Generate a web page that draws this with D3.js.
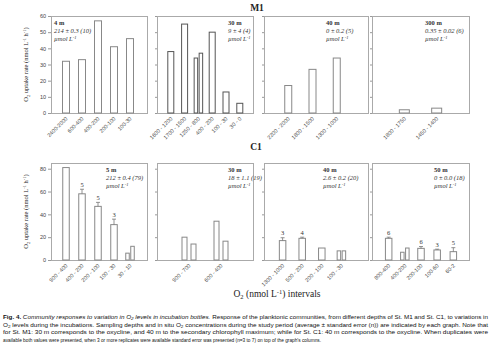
<!DOCTYPE html>
<html><head><meta charset="utf-8">
<script src="https://cdn.jsdelivr.net/npm/d3@7"></script>
<style>body{margin:0;background:#fff} svg{display:block}</style>
</head><body><svg id="c" width="491" height="353"></svg>
<script>
// ---------- DATA ----------
const m1_4m_cats   = ["2400-2000","600-400","400-200","200-100","100-30"];
const m1_4m_vals   = [32,33,57,41,46];
const m1_30m_cats  = ["1600 - 1200","1700 - 1500","1250 - 800","400 - 200","100 - 30","30 - 0"];
const m1_30m_vals  = [38,55,[34,37],50,13,6];
const m1_40m_cats  = ["2200 - 2000","1800 - 1500","1300 - 1000"];
const m1_40m_vals  = [17,27,34];
const m1_300m_cats = ["1800 - 1750","1450 - 1400"];
const m1_300m_vals = [2,3];

const c1_5m_cats  = ["900 - 400","400 - 200","200 - 100","100 - 30","30 - 10"];
const c1_5m_vals  = [81,58,47,31,[6,12]];
const c1_5m_err   = [null,4,3.5,4.8,null];
const c1_5m_n     = [null,5,5,3,null];
const c1_30m_cats = ["900 - 700","600 - 400"];
const c1_30m_vals = [[20,14],[34,16.5]];
const c1_40m_cats = ["1300 - 1000","500 - 200","200 - 100","100 - 30"];
const c1_40m_vals = [17,19,10.5,[8,8]];
const c1_40m_err  = [2.5,1,null,null];
const c1_40m_n    = [3,4,null,null];
const c1_50m_cats = ["800-400","400-200","200-100","100-60","60-2"];
const c1_50m_vals = [19,[6.8,10.5],10.2,8.8,7.3];
const c1_50m_err  = [1,null,1.6,0.7,3.5];
const c1_50m_n    = [6,null,6,3,5];

const m1_depths = ["4 m","30 m","40 m","300 m"];
const m1_conc   = ["214 ± 0.3 (10)","9 ± 4 (4)","0 ± 0.2 (5)","0.35 ± 0.02 (6)"];
const c1_depths = ["5 m","30 m","40 m","50 m"];
const c1_conc   = ["212 ± 0.4 (79)","18 ± 1.1 (19)","2.6 ± 0.2 (20)","0 ± 0.0 (18)"];

const m1_ticks = [0,10,20,30,40,50,60];
const c1_ticks = [0,20,40,60,80];

// ---------- LAYOUT ----------
const svg = d3.select("#c");
const SERIF = "'Liberation Serif','Times New Roman',serif";
const SANS  = "'Liberation Sans',Arial,sans-serif";

const rows = {
  M1:{top:16,bottom:113,max:60,ticks:m1_ticks,depths:m1_depths,conc:m1_conc,annY:25},
  C1:{top:163,bottom:260,max:85,ticks:c1_ticks,depths:c1_depths,conc:c1_conc,annY:172}
};

const panels = [
  {row:"M1",i:0,cats:m1_4m_cats,vals:m1_4m_vals,box:[51,147],band:[50,146],bw:7,annX:54,labels:true},
  {row:"M1",i:1,cats:m1_30m_cats,vals:m1_30m_vals,box:[157,253],band:[157,253.6],bw:6,annX:228,stroke:"#555"},
  {row:"M1",i:2,cats:m1_40m_cats,vals:m1_40m_vals,box:[264,368],band:[264,361],bw:7,annX:326},
  {row:"M1",i:3,cats:m1_300m_cats,vals:m1_300m_vals,box:[372,469],band:[372,469],bw:10,annX:425},
  {row:"C1",i:0,cats:c1_5m_cats,vals:c1_5m_vals,err:c1_5m_err,n:c1_5m_n,box:[51,147],band:[50,146],bw:6.5,annX:106,labels:true},
  {row:"C1",i:1,cats:c1_30m_cats,vals:c1_30m_vals,box:[157,253],band:[157,253],bw:6,pw:5,pg:4,annX:228},
  {row:"C1",i:2,cats:c1_40m_cats,vals:c1_40m_vals,err:c1_40m_err,n:c1_40m_n,box:[264,368],band:[263,361],bw:6.5,annX:323},
  {row:"C1",i:3,cats:c1_50m_cats,vals:c1_50m_vals,err:c1_50m_err,n:c1_50m_n,box:[372,469],band:[372.5,469.5],bw:6.5,annX:434}
];

panels.forEach(p => {
  const r = rows[p.row];
  const y = d3.scaleLinear().domain([0,r.max]).range([r.bottom,r.top]);
  const x = d3.scaleBand().domain(p.cats).range(p.band).paddingOuter(0.5).paddingInner(0);
  const g = svg.append("g");
  const stroke = p.stroke || "#888";

  const ax = d3.axisLeft(y).tickValues(r.ticks).tickSize(p.labels?3:2).tickPadding(2);
  if(!p.labels) ax.tickFormat("");
  const ag = g.append("g").attr("transform",`translate(${p.box[0]},0)`).call(ax);
  ag.select(".domain").remove();
  ag.selectAll("line").attr("stroke","#999");
  ag.selectAll("text").attr("font-family",SANS).attr("font-size",5.5).attr("fill","#444");

  g.append("rect").attr("x",p.box[0]+0.5).attr("y",r.top+0.5)
    .attr("width",p.box[1]-p.box[0]).attr("height",r.bottom-r.top)
    .attr("fill","none").attr("stroke","#aaa").attr("stroke-width",1);

  const pw = p.pw || 3.5, pg = p.pg || 1.5;
  p.cats.forEach((c,k) => {
    const v = p.vals[k];
    const cx = x(c) + x.bandwidth()/2;
    const list = Array.isArray(v)
      ? v.map((vv,j)=>({v:vv, x0: cx + (j===0 ? -(pg/2+pw) : pg/2), w:pw}))
      : [{v:v, x0:cx - p.bw/2, w:p.bw}];
    list.forEach(b => {
      g.append("rect").attr("x",b.x0).attr("y",y(b.v))
        .attr("width",b.w).attr("height",y(0)-y(b.v))
        .attr("fill","#fff").attr("stroke",stroke).attr("stroke-width",1);
    });
    if(p.err && p.err[k]!=null){
      const top = y(v + p.err[k]);
      g.append("line").attr("x1",cx).attr("x2",cx).attr("y1",y(v)).attr("y2",top)
        .attr("stroke","#777").attr("stroke-width",0.8);
      g.append("line").attr("x1",cx-2).attr("x2",cx+2).attr("y1",top).attr("y2",top)
        .attr("stroke","#777").attr("stroke-width",0.8);
      g.append("text").attr("x",cx).attr("y",top-2.5).attr("text-anchor","middle")
        .attr("font-family",SERIF).attr("font-size",6.5).attr("fill","#333").text(p.n[k]);
    }
  });

  const xg = g.append("g").attr("transform",`translate(0,${r.bottom})`)
    .call(d3.axisBottom(x).tickSize(0).tickPadding(0));
  xg.select(".domain").remove();
  xg.selectAll("text")
    .attr("font-family",SANS).attr("font-size",5.5).attr("fill","#444")
    .attr("text-anchor","end").attr("dy",0)
    .attr("transform","translate(2,6) rotate(-45)");

  const t = g.append("g").attr("font-family",SERIF).attr("font-size",6.5).attr("fill","#333");
  t.append("text").attr("x",p.annX).attr("y",r.annY).attr("font-weight","bold").text(r.depths[p.i]);
  t.append("text").attr("x",p.annX).attr("y",r.annY+8).attr("font-style","italic").text(r.conc[p.i]);
  const u = t.append("text").attr("x",p.annX).attr("y",r.annY+16).attr("font-style","italic");
  u.append("tspan").text("µmol L");
  u.append("tspan").attr("dy",-2.5).attr("font-size",4.5).text("-1");
});

svg.append("text").attr("x",257).attr("y",11).attr("text-anchor","middle")
  .attr("font-family",SERIF).attr("font-weight","bold").attr("font-size",9.5).attr("fill","#222").text("M1");
svg.append("text").attr("x",256).attr("y",150).attr("text-anchor","middle")
  .attr("font-family",SERIF).attr("font-weight","bold").attr("font-size",9.5).attr("fill","#222").text("C1");

function yTitle(cy){
  const t = svg.append("text").attr("transform",`translate(28,${cy}) rotate(-90)`)
    .attr("text-anchor","middle").attr("font-family",SERIF).attr("font-size",6.5).attr("fill","#222");
  t.append("tspan").text("O");
  t.append("tspan").attr("dy",1.5).attr("font-size",4.5).text("2");
  t.append("tspan").attr("dy",-1.5).text(" uptake rate (nmol L");
  t.append("tspan").attr("dy",-2.5).attr("font-size",4.5).text("-1");
  t.append("tspan").attr("dy",2.5).text(" h");
  t.append("tspan").attr("dy",-2.5).attr("font-size",4.5).text("-1");
  t.append("tspan").attr("dy",2.5).text(")");
}
yTitle(64.5);
yTitle(211.5);

const xt = svg.append("text").attr("x",277).attr("y",297).attr("text-anchor","middle")
  .attr("font-family",SERIF).attr("font-size",9.5).attr("fill","#222");
xt.append("tspan").text("O");
xt.append("tspan").attr("dy",2).attr("font-size",6.5).text("2");
xt.append("tspan").attr("dy",-2).text(" (nmol L");
xt.append("tspan").attr("dy",-3.5).attr("font-size",6.5).text("-1");
xt.append("tspan").attr("dy",3.5).text(") intervals");

const cap = svg.append("g").attr("font-family",SANS).attr("font-size",5.2).attr("fill","#111");
const l1 = cap.append("text").attr("x",3).attr("y",319).attr("textLength",485).attr("lengthAdjust","spacingAndGlyphs");
l1.append("tspan").attr("font-weight","bold").text("Fig. 4. ");
l1.append("tspan").attr("font-style","italic").text("Community responses to variation in O");
l1.append("tspan").attr("font-style","italic").attr("dy",1).attr("font-size",3.8).text("2");
l1.append("tspan").attr("font-style","italic").attr("dy",-1).text(" levels in incubation bottles.");
l1.append("tspan").text(" Response of the planktonic communities, from different depths of St. M1 and St. C1, to variations in");
const l2 = cap.append("text").attr("x",3).attr("y",326.5).attr("textLength",485).attr("lengthAdjust","spacingAndGlyphs");
l2.append("tspan").text("O");
l2.append("tspan").attr("dy",1).attr("font-size",3.8).text("2");
l2.append("tspan").attr("dy",-1).text(" levels during the incubations. Sampling depths and in situ O");
l2.append("tspan").attr("dy",1).attr("font-size",3.8).text("2");
l2.append("tspan").attr("dy",-1).text(" concentrations during the study period (average ± standard error (n)) are indicated by each graph. Note that");
cap.append("text").attr("x",3).attr("y",334).attr("textLength",485).attr("lengthAdjust","spacingAndGlyphs")
  .text("for St. M1: 30 m corresponds to the oxycline, and 40 m to the secondary chlorophyll maximum; while for St. C1: 40 m corresponds to the oxycline. When duplicates were");
cap.append("text").attr("x",3).attr("y",341.5).attr("textLength",318).attr("lengthAdjust","spacingAndGlyphs")
  .text("available both values were presented, when 3 or more replicates were available standard error was presented (n=3 to 7) on top of the graph's columns.");
</script>
</body></html>
